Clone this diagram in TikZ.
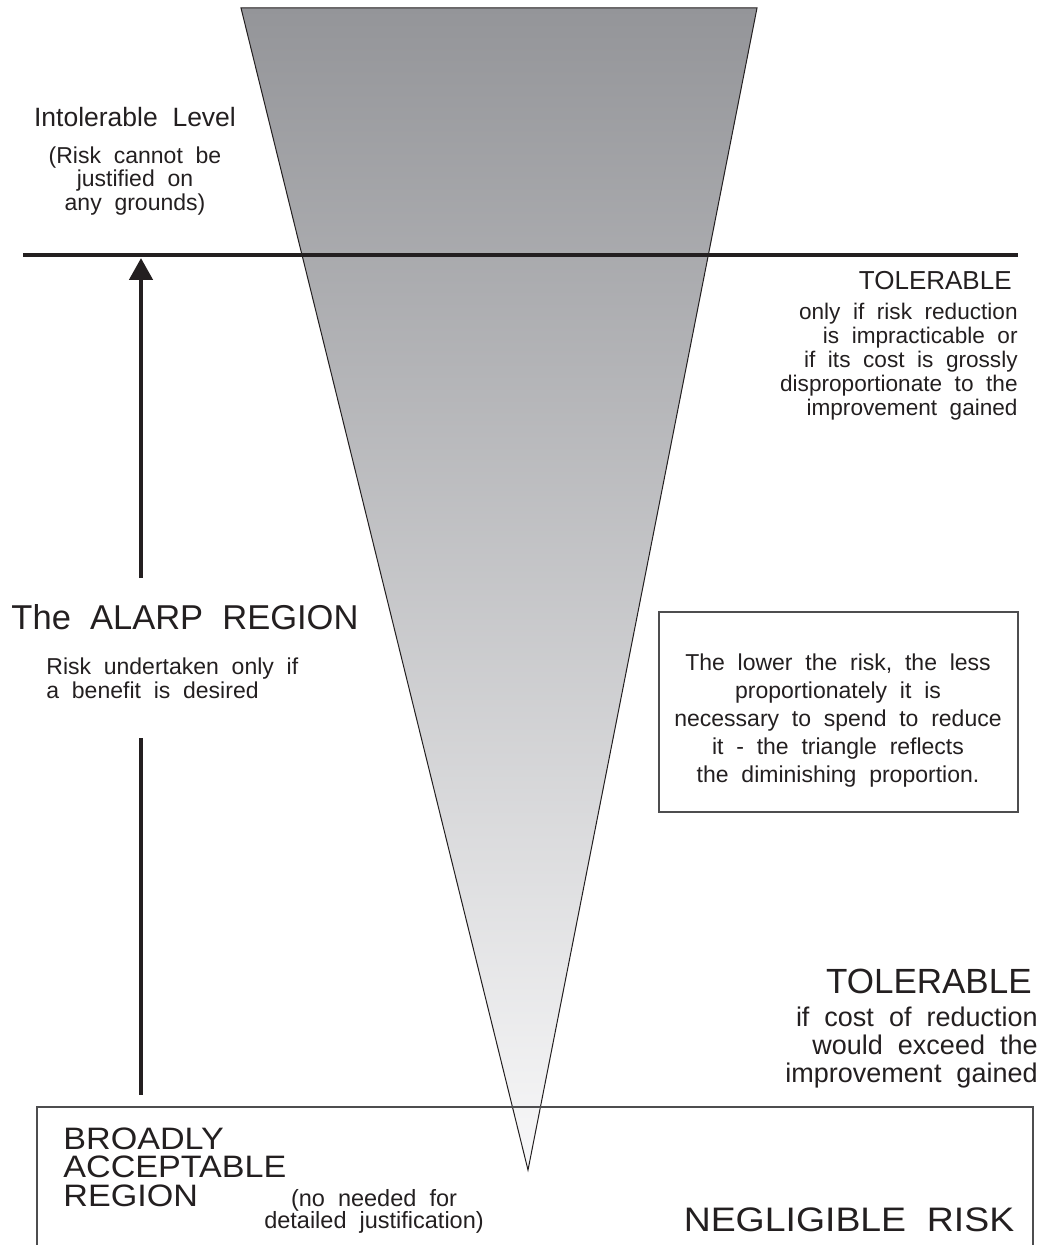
\documentclass[tikz,border=0pt]{standalone}
\usepackage{fontspec}
\setmainfont{Liberation Sans}[WordSpace=2]
\newfontfamily\widefont{Liberation Sans}[WordSpace=2, FakeStretch=1.1]
\usetikzlibrary{arrows.meta}
\definecolor{ink}{HTML}{231F20}
\definecolor{boxline}{HTML}{4D4D4F}
\definecolor{trigtop}{HTML}{949599}
\definecolor{trigbot}{HTML}{F8F8F9}
\begin{document}
\begin{tikzpicture}[x=0.5pt,y=-0.5pt,
  txt/.style={inner sep=0pt, text=ink},
  thick line/.style={ink, line width=1.7pt},
  shaft/.style={ink, line width=2.35pt},
  frame/.style={boxline, line width=0.6pt}]
\useasboundingbox (0,0) rectangle (1045,1245);
% triangle
\coordinate (tl) at (241,8);
\coordinate (tr) at (757,8);
\coordinate (apex) at (528,1170);
\shade[top color=trigtop, bottom color=trigbot] (tl)--(tr)--(apex)--cycle;
\draw[ink, line width=0.5pt, line join=miter] (tl)--(tr)--(apex)--cycle;
% intolerable line
\coordinate (lineL) at (23,255);
\coordinate (lineR) at (1018,255);
\draw[thick line] (lineL) -- (lineR);
% arrow
\coordinate (arrTip) at (141,258);
\coordinate (arrBase) at (141,578);
\coordinate (lowTop) at (141,738);
\coordinate (lowBot) at (141,1095);
\draw[shaft, -{Triangle[width=11.5pt,length=11pt]}] (arrBase) -- (arrTip);
\draw[shaft] (lowTop) -- (lowBot);
% boxes
\draw[frame] (659,612) rectangle (1018,812);
\draw[frame] (37,1260) -- (37,1107) -- (1033,1107) -- (1033,1260);
% texts
\node[txt, font=\fontsize{13.25}{15}\selectfont] (intol) at (135,117) {Intolerable Level};
\node[txt, align=center, font=\fontsize{11.5}{11.8}\selectfont] (intolsub) at (135,181)
  {(Risk cannot be\\justified on\\any grounds)};
\node[txt, anchor=east, font=\fontsize{13}{15}\selectfont] (tol1) at (1012,281) {TOLERABLE};
\node[txt, anchor=east, align=right, font=\fontsize{11.3}{12}\selectfont] (tol1sub) at (1018,362)
  {only if risk reduction\\is impracticable or\\if its cost is grossly\\disproportionate to the\\improvement gained};
\node[txt, font=\fontsize{17.25}{20}\selectfont] (alarp) at (185,617) {The ALARP REGION};
\node[txt, anchor=west, align=left, font=\fontsize{11.5}{12}\selectfont] (alarpsub) at (46,678)
  {Risk undertaken only if\\a benefit is desired};
\node[txt, align=center, font=\fontsize{11.5}{14}\selectfont] (note) at (838,721)
  {The lower the risk, the less\\proportionately it is\\necessary to spend to reduce\\it - the triangle reflects\\the diminishing proportion.};
\node[txt, anchor=east, font=\fontsize{17.5}{20}\selectfont] (tol2) at (1032,981) {TOLERABLE};
\node[txt, anchor=east, align=right, font=\fontsize{13.5}{14}\selectfont] (tol2sub) at (1038,1048)
  {if cost of reduction\\would exceed the\\improvement gained};
\node[txt, anchor=west, align=left, font=\widefont\fontsize{15.5}{14.2}\selectfont] (broad) at (63,1167)
  {BROADLY\\ACCEPTABLE\\REGION};
\node[txt, align=center, font=\fontsize{11.75}{11}\selectfont] (noneed) at (374,1211)
  {(no needed for\\detailed justification)};
\node[txt, font=\widefont\fontsize{17}{20}\selectfont] (negl) at (849,1220) {NEGLIGIBLE RISK};
\end{tikzpicture}
\end{document}
